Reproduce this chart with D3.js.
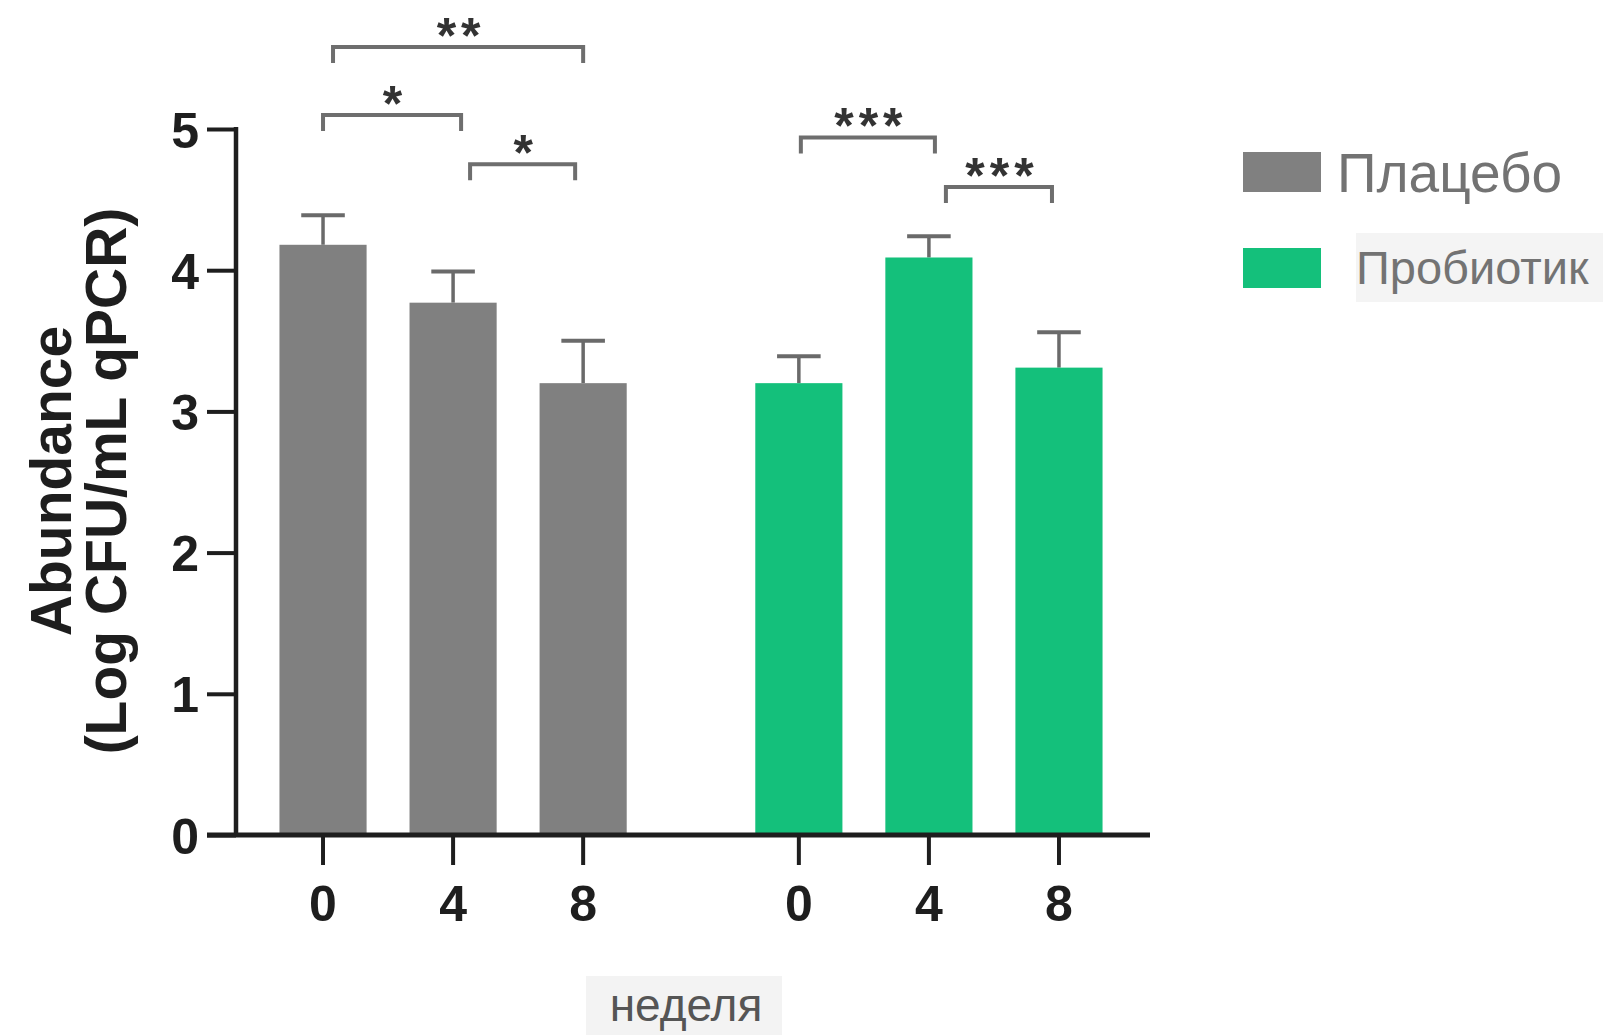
<!DOCTYPE html>
<html>
<head>
<meta charset="utf-8">
<script src="https://cdn.jsdelivr.net/npm/d3@7"></script>
<style>
  html, body { margin: 0; padding: 0; background: #ffffff; }
  svg { display: block; }
</style>
</head>
<body>
<svg id="chart" width="1603" height="1035"></svg>
<script>
// ---- data ----
const groups = ["Плацебо", "Пробиотик"];
const weeks = ["0", "4", "8"];
const placeboMeans = [4.18, 3.77, 3.20];
const placeboErrors = [0.21, 0.22, 0.30];
const probioticMeans = [3.20, 4.09, 3.31];
const probioticErrors = [0.19, 0.15, 0.25];
const yTicks = [0, 1, 2, 3, 4, 5];
const yTitleLines = ["Abundance", "(Log CFU/mL qPCR)"];
const xTitle = "неделя";
// significance brackets: [group index, from week index, to week index, level (axis units), label]
const sigGroup = [0, 0, 0, 1, 1];
const sigFrom = [0, 0, 1, 0, 1];
const sigTo = [2, 1, 2, 1, 2];
const sigLevel = [5.58, 5.10, 4.75, 4.94, 4.59];
const sigLabel = ["**", "*", "*", "***", "***"];

// ---- layout ----
const svg = d3.select("#chart");
const colors = { "Плацебо": "#808080", "Пробиотик": "#14c07b" };
const axisColor = "#1e1e1e";

const x0 = d3.scaleBand().domain(groups).range([258, 1124]).paddingInner(0.18).paddingOuter(0);
const x1 = d3.scaleBand().domain(weeks).range([0, x0.bandwidth()]).paddingInner(0.33).paddingOuter(0.165);
const y = d3.scaleLinear().domain([0, 5]).range([835, 129]);

const rows = [];
groups.forEach((g, gi) => {
  const means = gi === 0 ? placeboMeans : probioticMeans;
  const errs = gi === 0 ? placeboErrors : probioticErrors;
  weeks.forEach((w, wi) => rows.push({ g, w, gi, wi, v: means[wi], e: errs[wi] }));
});
const cx = (gi, wi) => x0(groups[gi]) + x1(weeks[wi]) + x1.bandwidth() / 2;

// error bars
const eb = svg.append("g");
eb.selectAll("line.stem").data(rows).join("line")
  .attr("x1", d => cx(d.gi, d.wi)).attr("x2", d => cx(d.gi, d.wi))
  .attr("y1", d => y(d.v)).attr("y2", d => y(d.v + d.e))
  .attr("stroke", "#6a6a6a").attr("stroke-width", 3.5);
eb.selectAll("line.cap").data(rows).join("line")
  .attr("x1", d => cx(d.gi, d.wi) - x1.bandwidth() / 4).attr("x2", d => cx(d.gi, d.wi) + x1.bandwidth() / 4)
  .attr("y1", d => y(d.v + d.e)).attr("y2", d => y(d.v + d.e))
  .attr("stroke", "#6a6a6a").attr("stroke-width", 4);

// bars
svg.append("g").selectAll("rect").data(rows).join("rect")
  .attr("x", d => x0(d.g) + x1(d.w))
  .attr("width", x1.bandwidth())
  .attr("y", d => y(d.v))
  .attr("height", d => y(0) - y(d.v))
  .attr("fill", d => colors[d.g]);

// y axis
const yAxis = d3.axisLeft(y).tickValues(yTicks).tickSize(29).tickPadding(8).tickFormat(d3.format("d"));
const yg = svg.append("g").attr("transform", `translate(236,0)`).call(yAxis);
yg.select(".domain").attr("d", `M0,${y(5) - 2}V${y(0)}`).attr("stroke", axisColor).attr("stroke-width", 4.5);
yg.selectAll(".tick line").attr("stroke", axisColor).attr("stroke-width", 4);
yg.selectAll(".tick text")
  .attr("font-family", "Liberation Sans, Arial, sans-serif")
  .attr("font-weight", "bold").attr("font-size", 50).attr("fill", "#1e1e1e")
  .attr("dy", "0.36em");

// x axis (line)
svg.append("line")
  .attr("x1", 207).attr("x2", 1150).attr("y1", y(0)).attr("y2", y(0))
  .attr("stroke", axisColor).attr("stroke-width", 5);
// x ticks
const xt = svg.append("g");
rows.forEach(d => {
  xt.append("line")
    .attr("x1", cx(d.gi, d.wi)).attr("x2", cx(d.gi, d.wi))
    .attr("y1", y(0)).attr("y2", y(0) + 30)
    .attr("stroke", axisColor).attr("stroke-width", 4);
  xt.append("text")
    .attr("x", cx(d.gi, d.wi)).attr("y", 921)
    .attr("text-anchor", "middle")
    .attr("font-family", "Liberation Sans, Arial, sans-serif")
    .attr("font-weight", "bold").attr("font-size", 50).attr("fill", "#1e1e1e")
    .text(d.w);
});

// y title
const yt = svg.append("text")
  .attr("transform", "translate(0,481) rotate(-90)")
  .attr("text-anchor", "middle")
  .attr("font-family", "Liberation Sans, Arial, sans-serif")
  .attr("font-weight", "bold").attr("font-size", 57).attr("fill", "#1e1e1e");
yt.selectAll("tspan").data(yTitleLines).join("tspan")
  .attr("x", 0).attr("y", (d, i) => [71, 126][i])
  .text(d => d);

// x title with faint background
svg.append("rect").attr("x", 586).attr("y", 976).attr("width", 196).attr("height", 59).attr("fill", "#f3f3f3");
svg.append("text")
  .attr("x", 686).attr("y", 1021)
  .attr("text-anchor", "middle")
  .attr("font-family", "Liberation Sans, Arial, sans-serif")
  .attr("font-size", 46).attr("fill", "#555555")
  .text(xTitle);

// significance brackets
const nudgeL = [10, 0, 17, 2, 17];
const nudgeR = [0, 8, -8, 6, -7];
const sg = svg.append("g");
sigLabel.forEach((lab, i) => {
  const xa = cx(sigGroup[i], sigFrom[i]) + nudgeL[i];
  const xb = cx(sigGroup[i], sigTo[i]) + nudgeR[i];
  const yy = y(sigLevel[i]);
  sg.append("path")
    .attr("d", `M${xa},${yy + 16}V${yy}H${xb}V${yy + 16}`)
    .attr("fill", "none").attr("stroke", "#6e6e6e").attr("stroke-width", 4);
  sg.append("text")
    .attr("x", (xa + xb) / 2 + 3).attr("y", yy + 6)
    .attr("text-anchor", "middle")
    .attr("font-family", "Liberation Sans, Arial, sans-serif")
    .attr("font-weight", "bold").attr("font-size", 50)
    .attr("letter-spacing", 5)
    .attr("fill", "#333333")
    .text(lab);
});

// legend
svg.append("rect").attr("x", 1356).attr("y", 233).attr("width", 247).attr("height", 69).attr("fill", "#f4f4f4");
const legY = [152, 248];
const legTextX = [1337, 1356];
const legTextY = [192, 284];
const legFont = [55, 47];
groups.forEach((g, i) => {
  svg.append("rect").attr("x", 1243).attr("y", legY[i]).attr("width", 78).attr("height", 40).attr("fill", colors[g]);
  svg.append("text")
    .attr("x", legTextX[i]).attr("y", legTextY[i])
    .attr("font-family", "Liberation Sans, Arial, sans-serif")
    .attr("font-size", legFont[i]).attr("fill", "#737373")
    .text(g);
});
</script>
</body>
</html>
